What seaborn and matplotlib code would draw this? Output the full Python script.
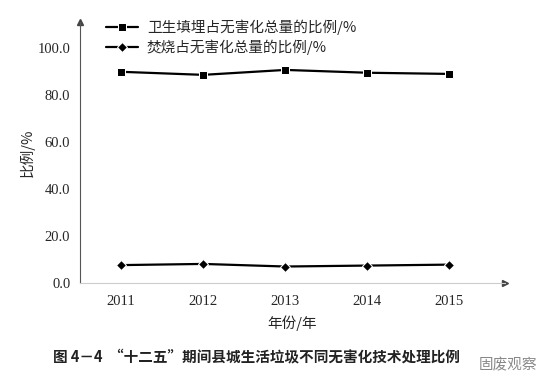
import matplotlib
matplotlib.use("Agg")
import matplotlib.pyplot as plt
import seaborn as sns
import pandas as pd

# data
years = ["2011", "2012", "2013", "2014", "2015"]
landfill = [89.8, 88.5, 90.6, 89.4, 88.9]
incineration = [7.6, 8.1, 7.0, 7.4, 7.8]
series_names = ["卫生填埋占无害化总量的比例/%", "焚烧占无害化总量的比例/%"]
y_ticks = [0, 20, 40, 60, 80, 100]

sns.set_style("white")
plt.rcParams["font.family"] = ["Liberation Serif", "Noto Sans CJK SC", "DejaVu Sans"]
cjk = ["Noto Sans CJK SC", "DejaVu Sans"]

df = pd.DataFrame({
    "year": years * 2,
    "x": list(range(len(years))) * 2,
    "value": landfill + incineration,
    "series": [series_names[0]] * len(years) + [series_names[1]] * len(years),
})

fig = plt.figure(figsize=(5.6, 3.85), dpi=100)
ax = fig.add_axes([0.143, 0.265, 0.759, 0.678])

sns.lineplot(data=df, x="x", y="value", hue="series", style="series",
             palette=["black", "black"], markers={series_names[0]: "s", series_names[1]: "D"},
             dashes=False, markersize=6, linewidth=1.6, ax=ax)
for line in ax.lines:
    if line.get_marker() == "D":
        line.set_markersize(5)

ax.set_xlim(-0.5, 4.68)
ax.set_ylim(0, 111)
ax.set_yticks(y_ticks)
ax.set_yticklabels([f"{v:.1f}" for v in y_ticks], fontsize=10.5)
ax.set_xticks(range(len(years)))
ax.set_xticklabels(years, fontsize=10.5)
ax.tick_params(axis="x", length=0, pad=9)
ax.set_xticks([i + 0.5 for i in range(len(years))], minor=True)
ax.tick_params(axis="x", which="minor", direction="in", length=3, color="#999999")
ax.tick_params(axis="y", direction="out", length=4, width=0.8, color="#555555", pad=3)

for s in ["top", "right"]:
    ax.spines[s].set_visible(False)
ax.spines["left"].set_color("#555555")
ax.spines["left"].set_linewidth(0.8)
ax.spines["bottom"].set_color("#cccccc")
ax.spines["bottom"].set_linewidth(0.8)
ax.plot(0, 1, "^", color="#444444", markersize=4, transform=ax.transAxes, clip_on=False)
ax.plot(1, 0, ">", color="#444444", markersize=4, transform=ax.transAxes, clip_on=False)

ax.set_xlabel("年份/年", fontsize=10.5, labelpad=5, family=cjk)
ax.set_ylabel("比例/%", fontsize=10.5, labelpad=2, family=cjk)

leg = ax.legend(loc="upper left", bbox_to_anchor=(0.03, 1.06), frameon=False,
                prop={"family": cjk, "size": 10.5},
                handlelength=2.2, labelspacing=0.3, handletextpad=0.6)
for h in leg.legend_handles:
    h.set_color("black")

fig.text(0.095, 0.075, "图 4－4  “十二五”期间县城生活垃圾不同无害化技术处理比例",
         fontsize=10.5, fontweight="bold", color="#222222", family=cjk, va="center")
fig.text(0.855, 0.052, "固废观察", fontsize=10.5, color="#888888", family=cjk, va="center")

fig.savefig("out.png", dpi=100)
